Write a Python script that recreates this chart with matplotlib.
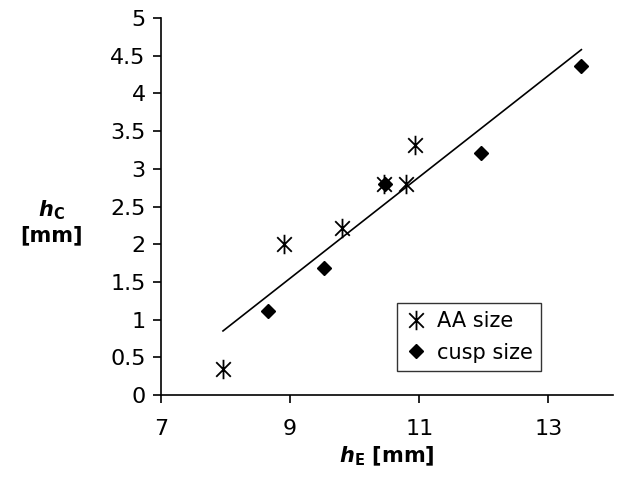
import matplotlib
matplotlib.use('Agg')
import matplotlib.pyplot as plt
from matplotlib.path import Path
import numpy as np

# valores
aa_x = [7.96, 8.90, 9.81, 10.46, 10.79, 10.94]
aa_y = [0.34, 2.00, 2.21, 2.80, 2.80, 3.31]
cusp_x = [8.66, 9.53, 10.47, 11.95, 13.50]
cusp_y = [1.11, 1.68, 2.80, 3.21, 4.36]
fit_x = [7.96, 13.51]
fit_y = [0.85, 4.58]
x_ticks = [7, 9, 11, 13]
y_ticks = [0, 0.5, 1, 1.5, 2, 2.5, 3, 3.5, 4, 4.5, 5]
y_tick_labels = ['0', '0.5', '1', '1.5', '2', '2.5', '3', '3.5', '4', '4.5', '5']

plt.rcParams['font.family'] = ['DejaVu Sans']
plt.rcParams['mathtext.fontset'] = 'dejavusans'

# marcador asterisco (vertical + X)
d = 0.75
star = Path([(0, -1), (0, 1), (-d, -d), (d, d), (-d, d), (d, -d)],
            [Path.MOVETO, Path.LINETO, Path.MOVETO, Path.LINETO, Path.MOVETO, Path.LINETO])

fig = plt.figure(figsize=(6.25, 4.8), dpi=100)
ax = fig.add_axes([0.2576, 0.177, 0.7232, 0.7855])

ax.plot(fit_x, fit_y, color='black', lw=1.2, zorder=1)
ax.plot(aa_x, aa_y, linestyle='none', marker=star, ms=14, mec='black', mew=1.3,
        mfc='none', label='AA size', zorder=3)
ax.plot(cusp_x, cusp_y, linestyle='none', marker='D', ms=7, color='black',
        label='cusp size', zorder=2)

ax.set_xlim(7, 14)
ax.set_ylim(0, 5)
ax.set_xticks(x_ticks)
ax.set_xticklabels([str(t) for t in x_ticks])
ax.set_yticks(y_ticks)
ax.set_yticklabels(y_tick_labels)
for s in ['top', 'right']:
    ax.spines[s].set_visible(False)
for s in ['left', 'bottom']:
    ax.spines[s].set_linewidth(1.2)
ax.tick_params(axis='both', direction='out', length=6, width=1.2, labelsize=16)
ax.tick_params(axis='y', pad=5)
ax.tick_params(axis='x', pad=11)

ax.set_xlabel(r'$\mathbfit{h}_\mathbf{E}$ [mm]', fontsize=15, fontweight='bold', labelpad=4)
fig.text(0.082, 0.5375, '$\\mathbfit{h}_\\mathbf{C}$\n[mm]', fontsize=15,
         fontweight='bold', ha='center', va='center', multialignment='center')

leg = ax.legend(loc='lower left', bbox_to_anchor=(0.522, 0.064), borderaxespad=0,
                fontsize=15, frameon=True, fancybox=False, handlelength=1.0,
                handletextpad=0.5, borderpad=0.4, labelspacing=0.55)
leg.get_frame().set_edgecolor('black')
leg.get_frame().set_linewidth(1.0)

fig.savefig('out.png', dpi=100)
